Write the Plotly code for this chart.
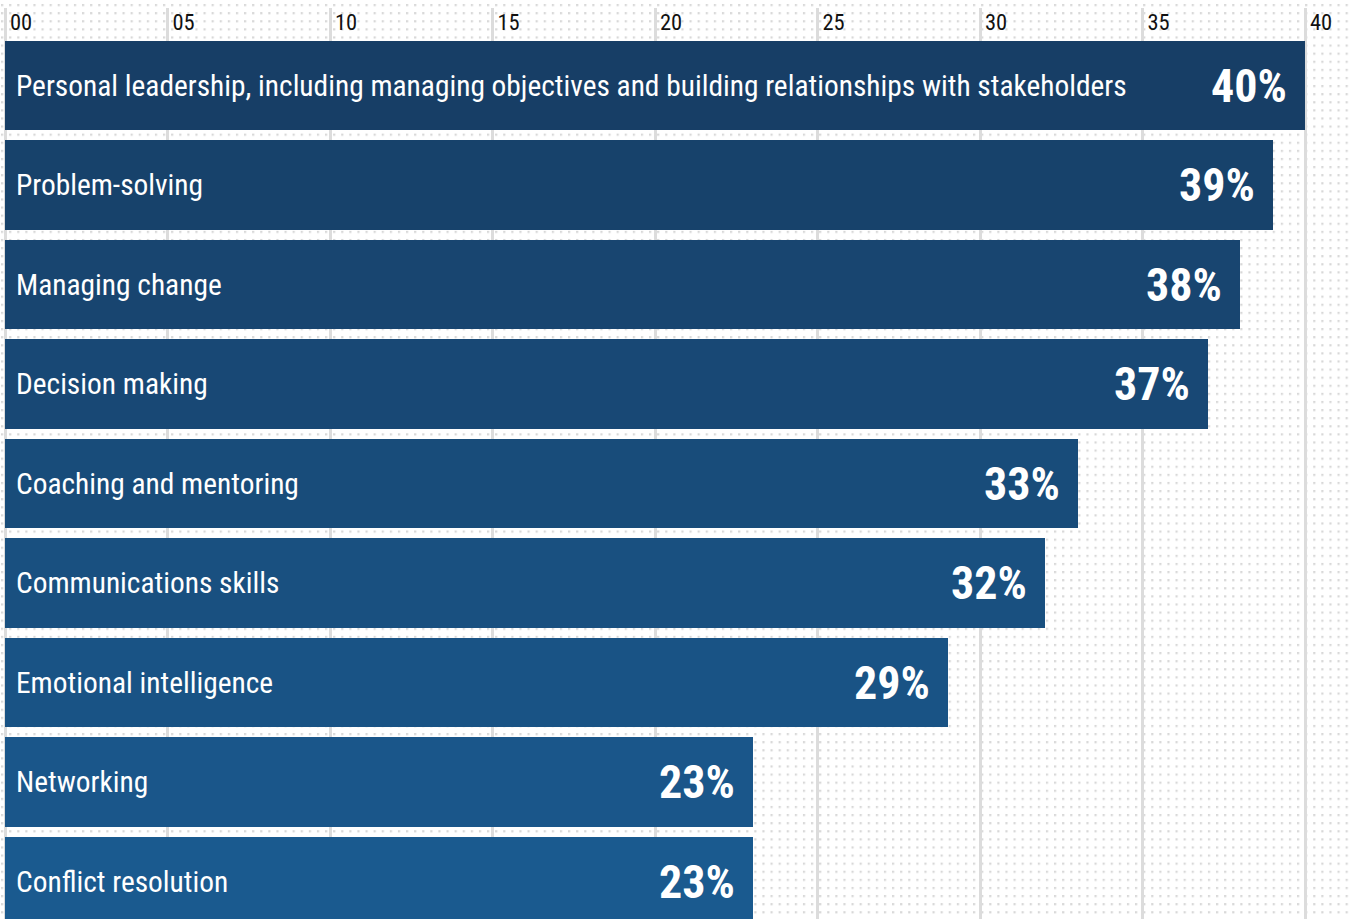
import base64
import plotly.graph_objects as go

categories = [
    "Personal leadership, including managing objectives and building relationships with stakeholders",
    "Problem-solving",
    "Managing change",
    "Decision making",
    "Coaching and mentoring",
    "Communications skills",
    "Emotional intelligence",
    "Networking",
    "Conflict resolution",
]
values = [40, 39, 38, 37, 33, 32, 29, 23, 23]
tick_vals = [0, 5, 10, 15, 20, 25, 30, 35, 40]

W, H = 1349, 919
TOP = 8
FONT = "Roboto Condensed, Liberation Sans Narrow, DejaVu Sans Condensed, Roboto, sans-serif"

# bar colour gradient, dark navy at top to lighter blue at bottom
c0 = (0x17, 0x3e, 0x66)
c1 = (0x1a, 0x5a, 0x8f)
n = len(values)
colors = []
for i in range(n):
    t = i / (n - 1)
    r, g, b = (round(c0[k] + (c1[k] - c0[k]) * t) for k in range(3))
    colors.append(f"rgb({r},{g},{b})")

ypos = list(range(n))

fig = go.Figure()
fig.add_trace(go.Bar(
    x=values, y=ypos, orientation="h",
    marker=dict(color=colors, line=dict(width=0)),
    width=0.895,
    hoverinfo="skip",
))

ann = []
for i, (c, v) in enumerate(zip(categories, values)):
    ann.append(dict(x=0, y=i, xref="x", yref="y", text=c, showarrow=False,
                    xanchor="left", yanchor="middle", xshift=9,
                    font=dict(family=FONT, size=29.4, color="white")))
    ann.append(dict(x=v, y=i, xref="x", yref="y", text=f"{v}%", showarrow=False,
                    xanchor="right", yanchor="middle", xshift=-16,
                    font=dict(family=FONT, size=46, color="white", weight="bold")))

# dotted background pattern
svg = (f'<svg xmlns="http://www.w3.org/2000/svg" width="{W}" height="{H}" viewBox="0 0 {W} {H}">'
       '<defs><pattern id="p" x="1" y="4" width="8.1" height="8.1" patternUnits="userSpaceOnUse">'
       '<rect x="0" y="0" width="2.2" height="2.2" fill="#d8d8d8"/></pattern></defs>'
       f'<rect width="{W}" height="{H}" fill="url(#p)"/></svg>')
src = "data:image/svg+xml;base64," + base64.b64encode(svg.encode()).decode()
ph = H - TOP

px_per_unit = 32.5
x0_px = 5
bar_pitch = 99.5
first_center = 85.5

fig.update_layout(
    width=W, height=H,
    margin=dict(l=0, r=0, t=TOP, b=0, pad=0),
    paper_bgcolor="white",
    plot_bgcolor="rgba(0,0,0,0)",
    showlegend=False,
    bargap=0,
    annotations=ann,
    images=[dict(source=src, xref="paper", yref="paper", x=0, y=1 + TOP / ph,
                 sizex=1, sizey=H / ph, sizing="stretch", xanchor="left",
                 yanchor="top", layer="below")],
    xaxis=dict(
        side="top",
        range=[-x0_px / px_per_unit, (W - x0_px) / px_per_unit],
        tickvals=tick_vals,
        tickformat="02d",
        ticklabelposition="inside",
        ticklabelshift=16,
        ticklabelstandoff=3,
        ticks="",
        showgrid=True, gridcolor="#dcdcdc", gridwidth=2.5,
        zeroline=False, showline=False,
        tickfont=dict(family=FONT, size=22.5, color="#111111"),
        fixedrange=True,
    ),
    yaxis=dict(
        range=[(H - first_center) / bar_pitch, -(first_center - TOP) / bar_pitch],
        showticklabels=False, showgrid=False, zeroline=False, showline=False,
        ticks="", fixedrange=True,
    ),
)

fig.write_html("out.html")
